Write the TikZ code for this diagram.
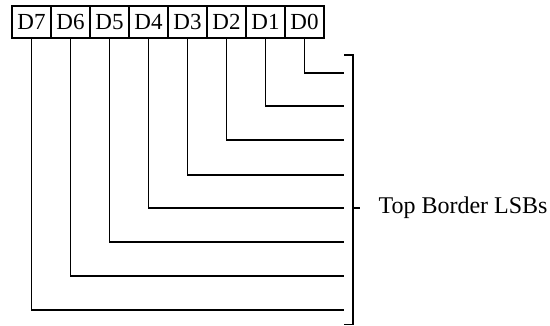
\documentclass[tikz,border=0pt]{standalone}
\usepackage{fontspec}
\setmainfont{Liberation Serif}

\begin{document}
\begin{tikzpicture}[x=1pt,y=1pt,
  bitbox/.style={draw,line width=1.5pt,minimum width=39pt,minimum height=32pt,
   inner sep=0pt,font=\fontsize{23}{25}\selectfont},
  wire/.style={line width=1.7pt},
  bracket/.style={line width=1.5pt}]
  \useasboundingbox (0,0) rectangle (550,326);
  \node[bitbox] (d7) at (31.5,304) {D7};
  \node[bitbox] (d6) at (70.5,304) {D6};
  \node[bitbox] (d5) at (109.5,304) {D5};
  \node[bitbox] (d4) at (148.5,304) {D4};
  \node[bitbox] (d3) at (187.5,304) {D3};
  \node[bitbox] (d2) at (226.5,304) {D2};
  \node[bitbox] (d1) at (265.5,304) {D1};
  \node[bitbox] (d0) at (304.5,304) {D0};
  % wire ends at the bracket
  \coordinate (e0) at (344,253);
  \coordinate (e1) at (344,220);
  \coordinate (e2) at (344,186);
  \coordinate (e3) at (344,151);
  \coordinate (e4) at (344,118);
  \coordinate (e5) at (344,84);
  \coordinate (e6) at (344,50);
  \coordinate (e7) at (344,16);
  \draw[wire] (d0.south) |- (e0);
  \draw[wire] (d1.south) |- (e1);
  \draw[wire] (d2.south) |- (e2);
  \draw[wire] (d3.south) |- (e3);
  \draw[wire] (d4.south) |- (e4);
  \draw[wire] (d5.south) |- (e5);
  \draw[wire] (d6.south) |- (e6);
  \draw[wire] (d7.south) |- (e7);
  % bracket and label
  \coordinate (btop) at (353,271);
  \coordinate (bbot) at (353,1.5);
  \coordinate (bmid) at (353,118);
  \node[anchor=west,font=\fontsize{24}{26}\selectfont] (lsb) at (375,118) {Top Border LSBs};
  \draw[bracket] ([xshift=-9pt]btop) -- (btop) -- (bbot) -- ([xshift=-9pt]bbot);
  \draw[bracket] (bmid) -- ([xshift=7pt]bmid);
\end{tikzpicture}
\end{document}
